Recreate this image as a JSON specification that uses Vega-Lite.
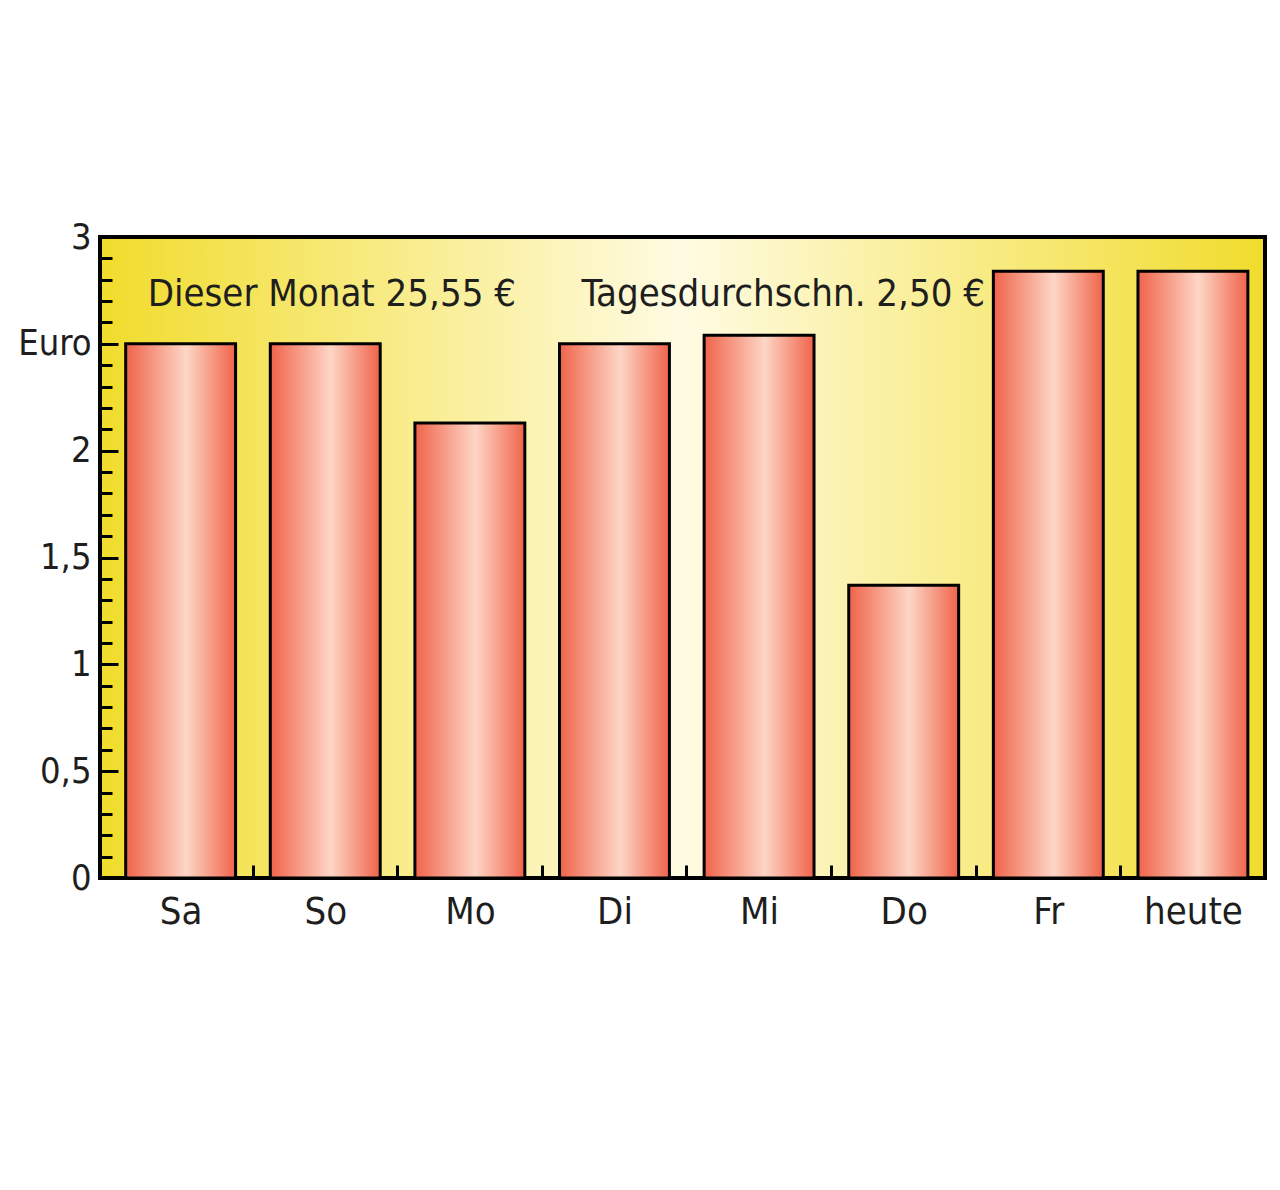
{
  "$schema": "https://vega.github.io/schema/vega-lite/v6.json",
  "width": 1165,
  "height": 641,
  "autosize": {"type": "none"},
  "padding": {"left": 100, "top": 237, "right": 15, "bottom": 312},
  "background": "white",
  "config": {
    "font": "DejaVu Sans Condensed, Liberation Sans, sans-serif",
    "view": {
      "stroke": "black",
      "strokeWidth": 4,
      "fill": {
        "gradient": "linear", "x1": 0, "y1": 0, "x2": 1, "y2": 0,
        "stops": [
          {"offset": 0, "color": "#f1dc2c"},
          {"offset": 0.5, "color": "#fffbe3"},
          {"offset": 1, "color": "#f1dc2c"}
        ]
      }
    }
  },
  "layer": [
    {
      "data": {
        "values": [
          {"day": "Sa", "euro": 2.5},
          {"day": "So", "euro": 2.5},
          {"day": "Mo", "euro": 2.13},
          {"day": "Di", "euro": 2.5},
          {"day": "Mi", "euro": 2.54},
          {"day": "Do", "euro": 1.37},
          {"day": "Fr", "euro": 2.84},
          {"day": "heute", "euro": 2.84}
        ]
      },
      "mark": {
        "type": "bar",
        "stroke": "black",
        "strokeWidth": 3,
        "fill": {
          "gradient": "linear", "x1": 0, "y1": 0, "x2": 1, "y2": 0,
          "stops": [
            {"offset": 0, "color": "#f0634a"},
            {"offset": 0.55, "color": "#fdd6c6"},
            {"offset": 1, "color": "#f0634a"}
          ]
        }
      },
      "encoding": {
        "x": {
          "field": "day",
          "type": "nominal",
          "sort": null,
          "scale": {
            "domain": ["Sa", "So", "Mo", "Di", "Mi", "Do", "Fr", "heute"],
            "paddingInner": 0.24,
            "paddingOuter": 0.148,
            "align": 0.6
          },
          "axis": {
            "title": null,
            "domain": false,
            "bandPosition": 1,
            "tickOffset": 17,
            "labelOffset": -17,
            "tickSize": -13,
            "tickWidth": 3,
            "tickColor": "black",
            "labelPadding": 28,
            "labelFontSize": 38,
            "labelColor": "#1e1e1e",
            "labelAngle": 0,
            "labelBaseline": "top"
          }
        },
        "y": {
          "field": "euro",
          "type": "quantitative",
          "scale": {"domain": [0, 3], "nice": false},
          "axis": {
            "title": null,
            "domain": false,
            "grid": false,
            "values": [0, 0.1, 0.2, 0.3, 0.4, 0.5, 0.6, 0.7, 0.8, 0.9, 1, 1.1, 1.2, 1.3, 1.4, 1.5, 1.6, 1.7, 1.8, 1.9, 2, 2.1, 2.2, 2.3, 2.4, 2.5, 2.6, 2.7, 2.8, 2.9, 3],
            "labelExpr": "datum.value == 2.5 ? 'Euro' : (round(datum.value * 10) % 5 == 0 ? replace(format(datum.value, '~g'), '.', ',') : '')",
            "tickSize": {"condition": {"test": "round(datum.value * 10) % 5 == 0", "value": -18}, "value": -12},
            "tickWidth": 3,
            "tickColor": "black",
            "labelPadding": 27,
            "labelFontSize": 36,
            "labelColor": "#1e1e1e",
            "labelBaseline": "middle",
            "labelFlush": false,
            "labelOverlap": false
          }
        }
      }
    },
    {
      "data": {
        "values": [
          {"day": "Sa", "ypos": 2.73, "label": "Dieser Monat 25,55 €"},
          {"day": "Di", "ypos": 2.73, "label": "Tagesdurchschn. 2,50 €"}
        ]
      },
      "mark": {"type": "text", "align": "left", "baseline": "middle", "dx": 22, "fontSize": 38, "color": "#1e1e1e"},
      "encoding": {
        "x": {
          "field": "day",
          "type": "nominal",
          "bandPosition": 0,
          "axis": {
            "title": null,
            "domain": false,
            "bandPosition": 1,
            "tickOffset": 17,
            "labelOffset": -17,
            "tickSize": -13,
            "tickWidth": 3,
            "tickColor": "black",
            "labelPadding": 28,
            "labelFontSize": 38,
            "labelColor": "#1e1e1e",
            "labelAngle": 0,
            "labelBaseline": "top"
          }
        },
        "y": {
          "field": "ypos",
          "type": "quantitative",
          "axis": {
            "title": null,
            "domain": false,
            "grid": false,
            "values": [0, 0.1, 0.2, 0.3, 0.4, 0.5, 0.6, 0.7, 0.8, 0.9, 1, 1.1, 1.2, 1.3, 1.4, 1.5, 1.6, 1.7, 1.8, 1.9, 2, 2.1, 2.2, 2.3, 2.4, 2.5, 2.6, 2.7, 2.8, 2.9, 3],
            "labelExpr": "datum.value == 2.5 ? 'Euro' : (round(datum.value * 10) % 5 == 0 ? replace(format(datum.value, '~g'), '.', ',') : '')",
            "tickSize": {"condition": {"test": "round(datum.value * 10) % 5 == 0", "value": -18}, "value": -12},
            "tickWidth": 3,
            "tickColor": "black",
            "labelPadding": 27,
            "labelFontSize": 36,
            "labelColor": "#1e1e1e",
            "labelBaseline": "middle",
            "labelFlush": false,
            "labelOverlap": false
          }
        },
        "text": {"field": "label"}
      }
    }
  ]
}
